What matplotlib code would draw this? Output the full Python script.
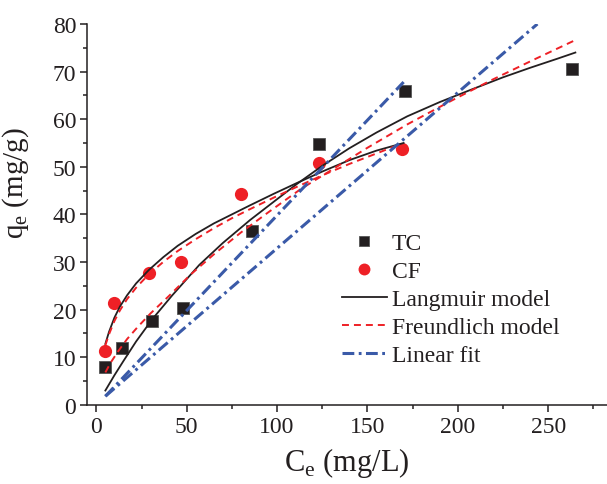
import matplotlib
matplotlib.use("Agg")
import matplotlib.pyplot as plt
from matplotlib.ticker import MultipleLocator

plt.rcParams['font.family'] = ['Liberation Serif', 'DejaVu Serif']
plt.rcParams['mathtext.fontset'] = 'custom'
plt.rcParams['mathtext.rm'] = 'Liberation Serif'
plt.rcParams['lines.scale_dashes'] = False

# measured points
tc_x = [5, 14, 31, 48, 86, 123, 171, 263]
tc_y = [8.0, 12.0, 17.5, 20.4, 36.5, 54.8, 65.9, 70.5]
cf_x = [5, 10, 29, 47, 80, 123, 169]
cf_y = [11.2, 21.3, 27.7, 30.0, 44.3, 50.8, 53.7]

# fitted curves
lang_tc_x = [5, 10, 15, 22, 31, 42, 57, 70, 85, 100, 111, 125, 140, 155, 172,
             190, 208, 225, 240, 255, 265]
lang_tc_y = [3.0, 6.2, 9.2, 13.3, 18.0, 23.0, 29.4, 34.0, 38.8, 43.2, 46.4, 50.2,
             53.9, 57.2, 60.6, 63.6, 66.3, 68.8, 70.8, 72.7, 74.0]
lang_cf_x = [5, 7, 10, 13, 17, 22, 29, 37, 45, 55, 65, 75, 85, 98, 111, 125, 140,
             155, 170]
lang_cf_y = [12.8, 15.3, 18.3, 20.6, 23.0, 25.5, 28.3, 31.0, 33.4, 35.9, 38.1, 40.0,
             41.9, 44.3, 46.6, 49.0, 51.4, 53.4, 55.0]

freu_tc_x = [5, 8, 12, 17, 23, 30, 40, 52, 65, 80, 95, 113, 130, 150, 172, 195,
             218, 242, 266]
freu_tc_y = [6.8, 8.9, 11.2, 13.8, 16.4, 19.2, 22.8, 27.3, 31.6, 36.2, 40.4, 45.3,
             49.3, 54.0, 58.9, 63.6, 68.1, 72.5, 76.8]
freu_cf_x = [5, 7, 10, 13, 17, 22, 29, 37, 45, 55, 65, 75, 85, 98, 111, 125, 140,
             155, 167]
freu_cf_y = [12.5, 14.8, 17.6, 19.8, 22.2, 24.6, 27.4, 30.0, 32.3, 34.8, 37.1, 39.2,
             41.1, 43.5, 45.8, 48.2, 50.6, 52.8, 54.6]

lin_a_x = [5, 170]
lin_a_y = [1.8, 67.8]
lin_b_x = [5, 244]
lin_b_y = [1.8, 80.0]

black = '#231f20'
red = '#ee2026'
blue = '#3a5aa8'

fig = plt.figure(figsize=(6.07, 4.85), dpi=100)
ax = fig.add_axes([0.1438, 0.1633, 0.8562, 0.7852])

ax.plot(tc_x, tc_y, 's', color=black, markersize=8, markeredgecolor='#555555',
        markeredgewidth=0.6, label='TC', zorder=2)
ax.plot(cf_x, cf_y, 'o', color=red, markersize=9.5, markeredgewidth=0, label='CF', zorder=2)

ax.plot(lang_tc_x, lang_tc_y, '-', color=black, lw=1.3, label='Langmuir model', zorder=3)
ax.plot(lang_cf_x, lang_cf_y, '-', color=black, lw=1.3, zorder=3)

ax.plot(freu_tc_x, freu_tc_y, color=red, lw=1.4, dashes=[5, 3.6],
        label='Freundlich model', zorder=3)
ax.plot(freu_cf_x, freu_cf_y, color=red, lw=1.4, dashes=[5, 3.6], zorder=3)

ax.plot(lin_a_x, lin_a_y, color=blue, lw=2.2, dashes=[8.5, 3.2, 2, 3.2],
        label='Linear fit', zorder=3)
ax.plot(lin_b_x, lin_b_y, color=blue, lw=2.2, dashes=[8.5, 3.2, 2, 3.2], zorder=3)

ax.set_xlim(-5, 282.5)
ax.set_ylim(0, 80)
ax.xaxis.set_major_locator(MultipleLocator(50))
ax.xaxis.set_minor_locator(MultipleLocator(25))
ax.yaxis.set_major_locator(MultipleLocator(10))
ax.yaxis.set_minor_locator(MultipleLocator(5))

for s in ['top', 'right']:
    ax.spines[s].set_visible(False)
for s in ['left', 'bottom']:
    ax.spines[s].set_linewidth(1.1)
    ax.spines[s].set_color(black)

ax.tick_params(which='both', direction='out', colors=black, width=1.1)
ax.tick_params(which='major', length=5, labelsize=17, pad=3)
ax.tick_params(which='minor', length=3)

ax.set_xlabel(r'C$_\mathregular{e}$ (mg/L)', fontsize=22, color=black, labelpad=6)
ax.set_ylabel(r'q$_\mathregular{e}$ (mg/g)', fontsize=21, color=black)
ax.yaxis.set_label_coords(-0.108, 0.585)

leg = ax.legend(loc='upper left', bbox_to_anchor=(0.5634, 0.518),
                bbox_transform=fig.transFigure, frameon=False, fontsize=17,
                handlelength=1.9, handletextpad=0.2, labelspacing=0.27,
                borderpad=0, borderaxespad=0, markerscale=0.9)
for t in leg.get_texts():
    t.set_color(black)

fig.savefig('out.png', dpi=100)
